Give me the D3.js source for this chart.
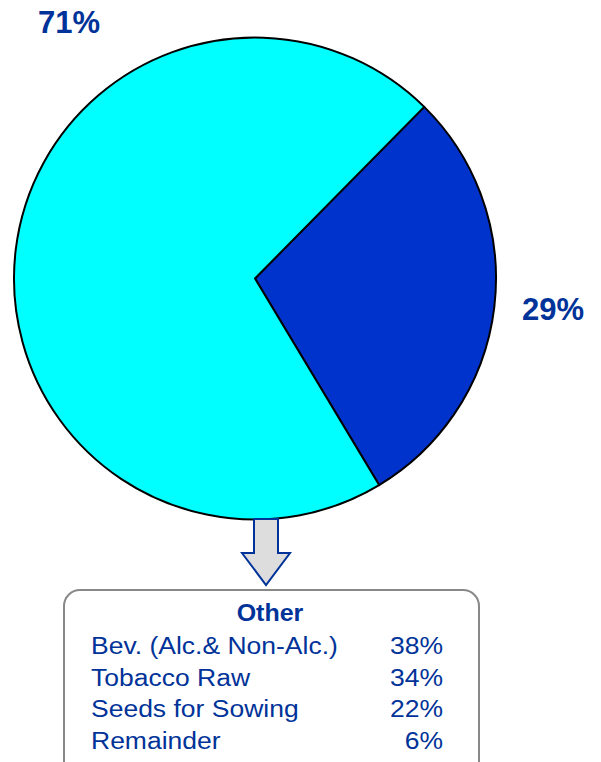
<!DOCTYPE html>
<html>
<head>
<meta charset="utf-8">
<script src="https://cdn.jsdelivr.net/npm/d3@7"></script>
<style>
  html, body { margin: 0; padding: 0; background: #fff; }
  svg { display: block; }
  text { font-family: "Liberation Sans", Arial, sans-serif; }
</style>
</head>
<body>
<svg id="chart" width="601" height="762"></svg>
<script>
// ---- data ----
const sliceNames = ["Other", "Main"];
const sliceValues = [29, 71];
const sliceLabels = ["29%", "71%"];
const otherCategories = ["Bev. (Alc.& Non-Alc.)", "Tobacco Raw", "Seeds for Sowing", "Remainder"];
const otherValues = [38, 34, 22, 6];
const otherTitle = "Other";

// ---- layout ----
const svg = d3.select("#chart");
const cx = 255, cy = 278.5, r = 241;
const startDeg = 44.6;
const textBlue = "#003399";
const colors = d3.scaleOrdinal().domain(sliceNames).range(["#0033CC", "#00FFFF"]);

const pie = d3.pie().sort(null).value(d => d.value)
  .startAngle(startDeg * Math.PI / 180)
  .endAngle(startDeg * Math.PI / 180 + 2 * Math.PI);
const data = sliceNames.map((n, i) => ({ name: n, value: sliceValues[i], label: sliceLabels[i] }));
const arcs = pie(data);
const arc = d3.arc().innerRadius(0).outerRadius(r);

const g = svg.append("g").attr("transform", `translate(${cx},${cy})`);
g.selectAll("path.slice").data(arcs).enter().append("path")
  .attr("class", "slice")
  .attr("d", arc)
  .attr("fill", d => colors(d.data.name))
  .attr("stroke", "#000")
  .attr("stroke-width", 2)
  .attr("stroke-linejoin", "round");

const labelPos = { "Other": [553, 320], "Main": [69, 33] };
g.selectAll("text.pct").data(arcs).enter().append("text")
  .attr("class", "pct")
  .attr("x", d => labelPos[d.data.name][0] - cx)
  .attr("y", d => labelPos[d.data.name][1] - cy)
  .attr("text-anchor", "middle")
  .attr("font-size", 31)
  .attr("font-weight", "bold")
  .attr("fill", textBlue)
  .text(d => d.data.label);

// arrow
const arrowPts = [[254, 519], [278, 519], [278, 553], [290, 553], [266, 585], [242, 553], [254, 553]];
svg.append("path")
  .attr("d", d3.line()(arrowPts) + "Z")
  .attr("fill", "#DDDDDD")
  .attr("stroke", textBlue)
  .attr("stroke-width", 2)
  .attr("stroke-linejoin", "miter");

// box
svg.append("rect")
  .attr("x", 64).attr("y", 590)
  .attr("width", 415).attr("height", 200)
  .attr("rx", 16).attr("ry", 16)
  .attr("fill", "#fff")
  .attr("stroke", "#888888")
  .attr("stroke-width", 2);

svg.append("text")
  .attr("transform", "translate(270,621) scale(1,0.95)")
  .attr("text-anchor", "middle")
  .attr("font-size", 25)
  .attr("font-weight", "bold")
  .attr("fill", textBlue)
  .text(otherTitle);

const rowY = d3.scalePoint().domain(otherCategories).range([654, 749]);
const rows = svg.selectAll("g.row").data(otherCategories.map((c, i) => ({ c, v: otherValues[i] })))
  .enter().append("g").attr("class", "row");
rows.append("text")
  .attr("transform", d => `translate(91,${rowY(d.c)}) scale(1,0.91)`)
  .attr("font-size", 26.5)
  .attr("fill", textBlue)
  .text(d => d.c);
rows.append("text")
  .attr("transform", d => `translate(443,${rowY(d.c)}) scale(1,0.91)`)
  .attr("text-anchor", "end")
  .attr("font-size", 26.5)
  .attr("fill", textBlue)
  .text(d => d.v + "%");
</script>
</body>
</html>
